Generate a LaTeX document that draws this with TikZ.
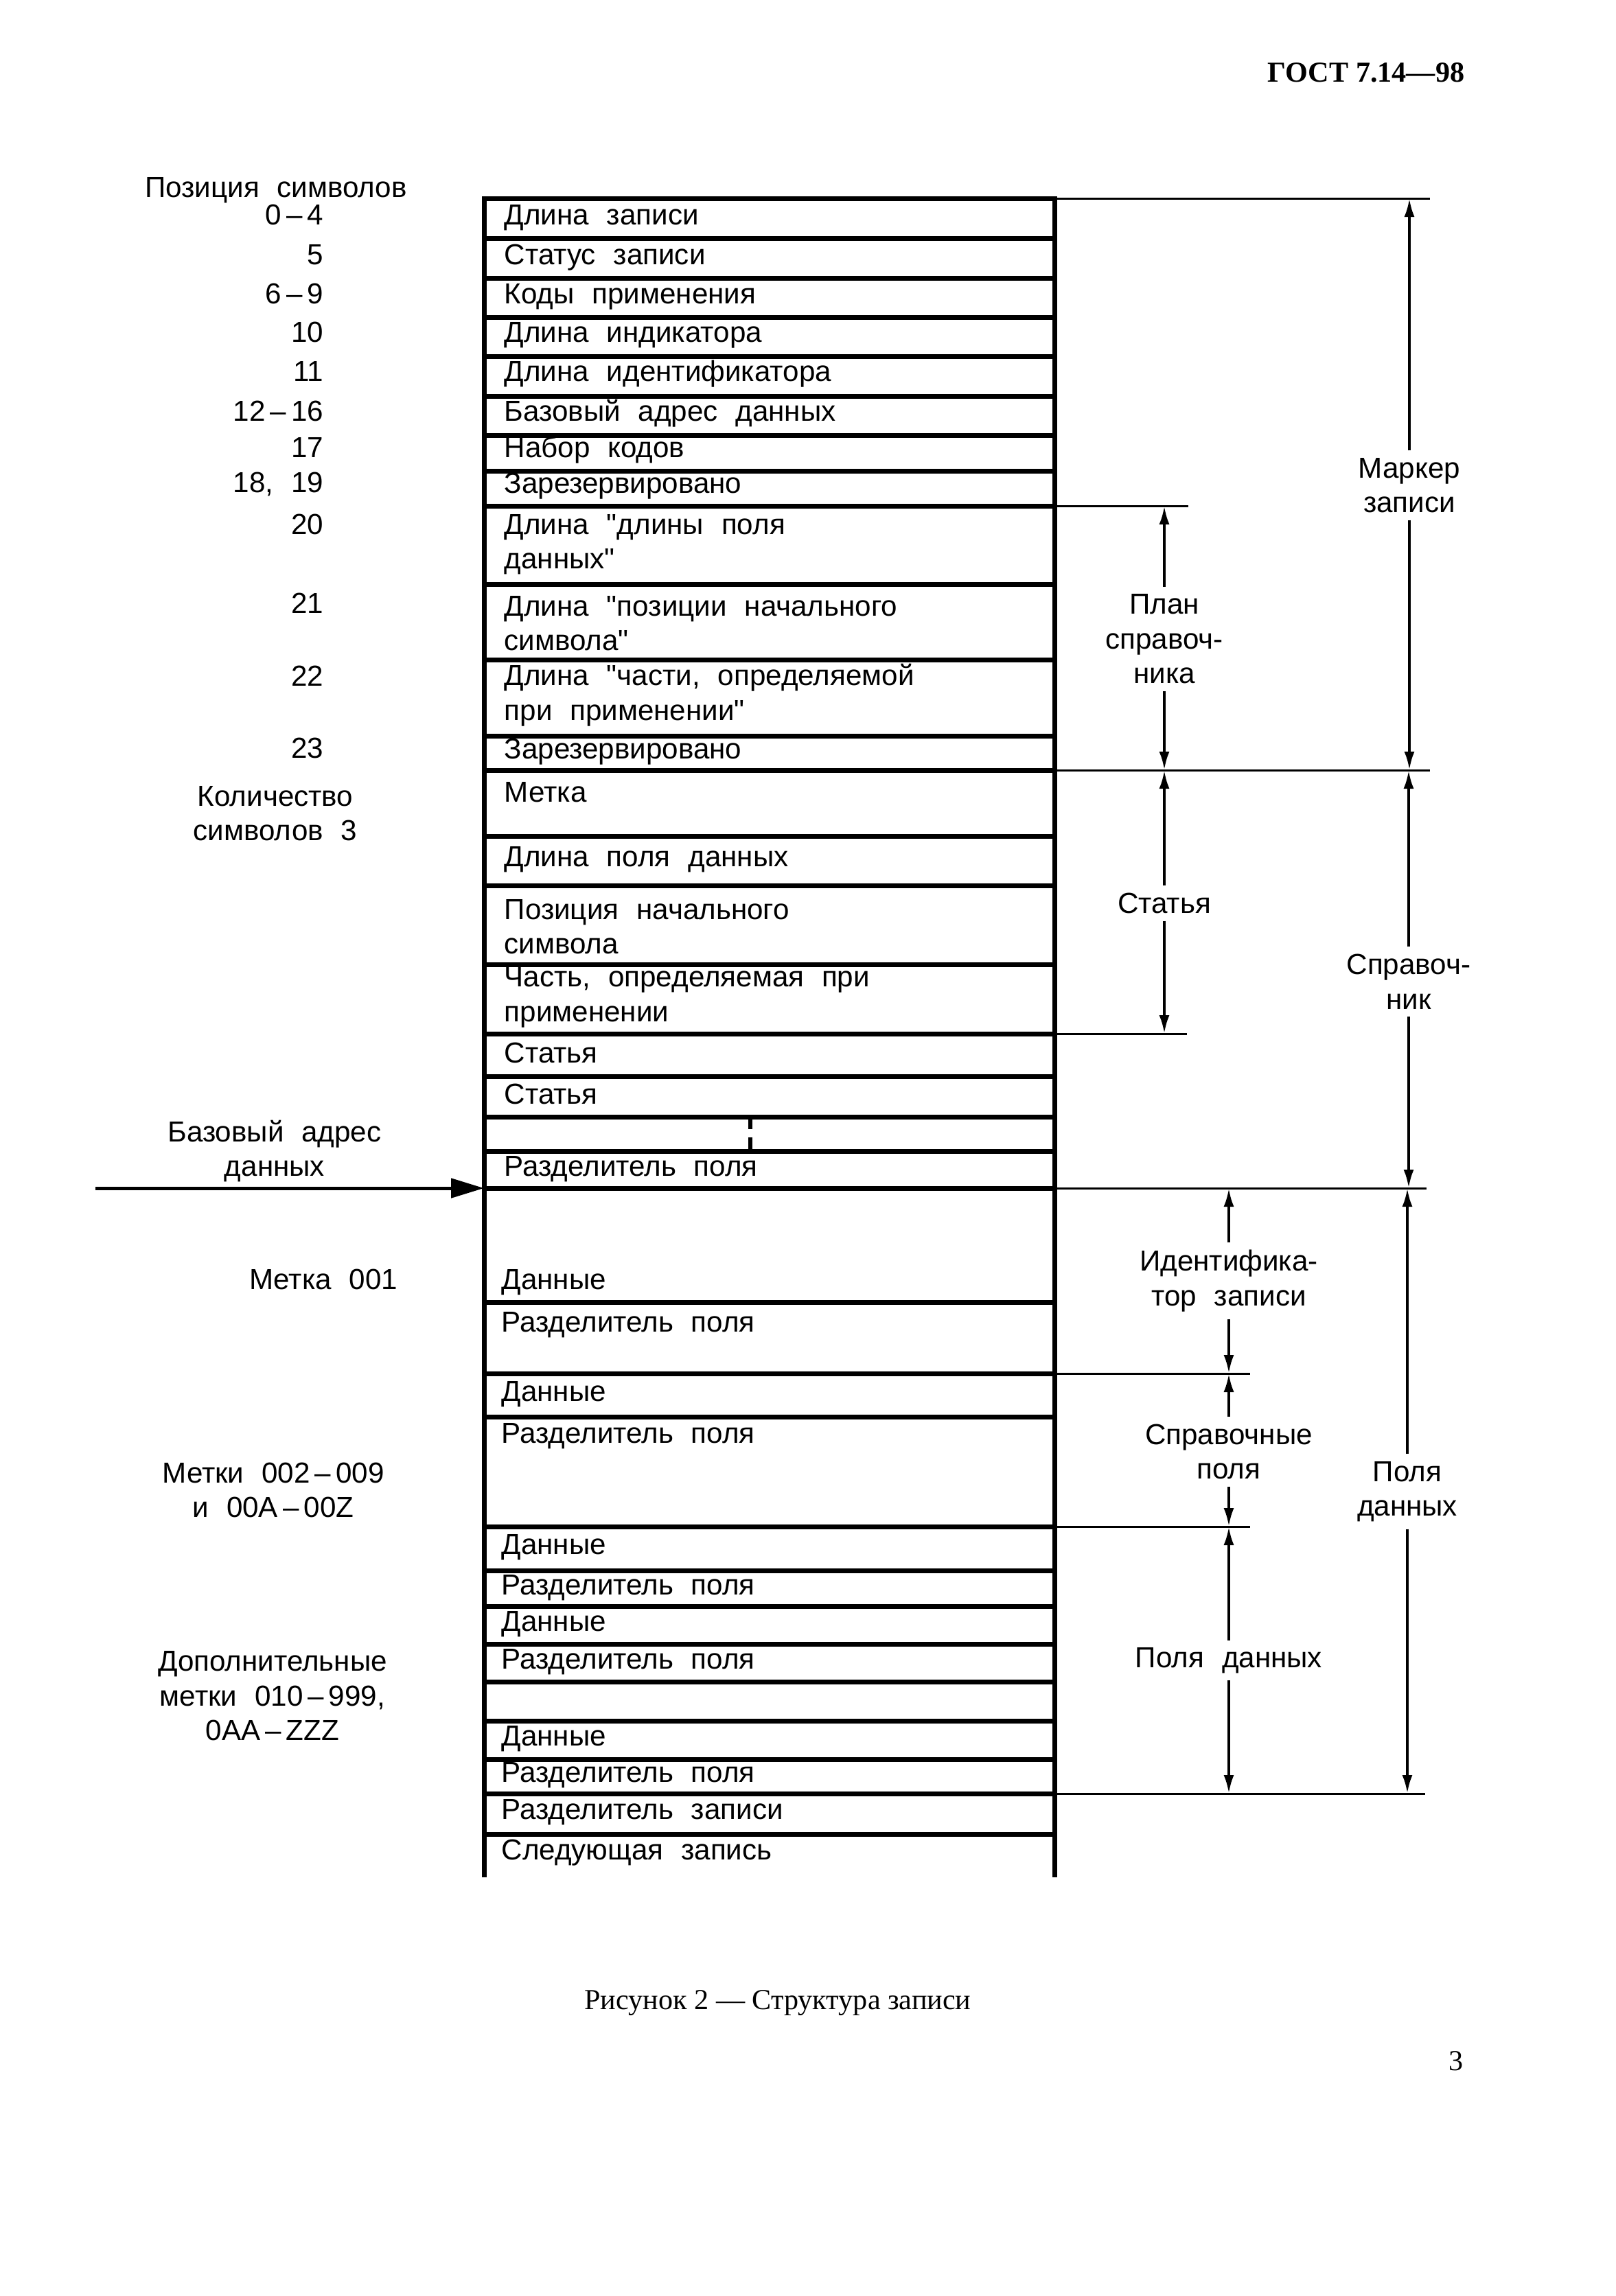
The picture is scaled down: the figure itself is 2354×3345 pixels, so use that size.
\documentclass[tikz,border=0pt]{standalone}
\usepackage{fontspec}
\setmainfont{Liberation Sans}[WordSpace=2.2, Ligatures=TeXOff]
\newfontfamily\serifrm{Liberation Serif}
\usetikzlibrary{arrows.meta}

\begin{document}
\begin{tikzpicture}[
  x=0.1mm, y=-0.1mm,
  font=\fontsize{12}{14.4}\selectfont,
  tl/.style={line width=0.7mm},
  el/.style={line width=0.3mm},
  pf/.style={line width=0.4mm, -{Latex[length=2.7mm,width=1.5mm]}},
  la/.style={line width=0.5mm, -{Triangle[length=4.8mm,width=2.8mm]}},
  cell/.style={anchor=mid west, inner sep=0pt},
  cell2/.style={anchor=west, align=left, inner sep=0pt},
  num/.style={anchor=mid east, inner sep=0pt},
  lbl/.style={align=center, inner sep=0pt},
  dimlbl/.style={align=center, inner sep=1mm},
  pg/.style={font=\serifrm\fontsize{12}{14}\selectfont}
]
\useasboundingbox (0,0) rectangle (2354,3345);

% header, caption, page number
\node[pg, font=\serifrm\bfseries\fontsize{12}{14}\selectfont] (gost) at (1990,106) {ГОСТ 7.14—98};
\node[pg] (cap) at (1133,2918) {Рисунок 2 — Структура записи};
\node[pg] (page) at (2121,3003) {3};

% table frame and rows
\draw[tl] (705,2735) -- (705,289) -- (1536,289) -- (1536,2735);
\draw[tl] (705,347) -- (1536,347) (705,405) -- (1536,405) (705,462) -- (1536,462) (705,519) -- (1536,519)
          (705,577) -- (1536,577) (705,634) -- (1536,634) (705,686) -- (1536,686) (705,737) -- (1536,737)
          (705,851) -- (1536,851) (705,961) -- (1536,961) (705,1072) -- (1536,1072) (705,1122) -- (1536,1122)
          (705,1218) -- (1536,1218) (705,1290) -- (1536,1290) (705,1405) -- (1536,1405) (705,1506) -- (1536,1506)
          (705,1568) -- (1536,1568) (705,1627) -- (1536,1627) (705,1677) -- (1536,1677) (705,1731) -- (1536,1731)
          (705,1897) -- (1536,1897) (705,2001) -- (1536,2001) (705,2064) -- (1536,2064) (705,2224) -- (1536,2224)
          (705,2288) -- (1536,2288) (705,2340) -- (1536,2340) (705,2395) -- (1536,2395) (705,2450) -- (1536,2450)
          (705,2507) -- (1536,2507) (705,2563) -- (1536,2563) (705,2613) -- (1536,2613) (705,2672) -- (1536,2672);
\draw[line width=0.6mm] (1093,1630) -- (1093,1645) (1093,1657) -- (1093,1677);

% row texts
\node[cell] (c1) at (734,318) {Длина записи};
\node[cell] (c2) at (734,376) {Статус записи};
\node[cell] (c3) at (734,433) {Коды применения};
\node[cell] (c4) at (734,489) {Длина индикатора};
\node[cell] (c5) at (734,546) {Длина идентификатора};
\node[cell] (c6) at (734,604) {Базовый адрес данных};
\node[cell] (c7) at (734,657) {Набор кодов};
\node[cell] (c8) at (734,709) {Зарезервировано};
\node[cell2] (c9) at (734,793) {Длина "длины поля\\данных"};
\node[cell2] (c10) at (734,908) {Длина "позиции начального\\символа"};
\node[cell2] (c11) at (734,1013) {Длина "части, определяемой\\при применении"};
\node[cell] (c12) at (734,1096) {Зарезервировано};
\node[cell] (c13) at (734,1159) {Метка};
\node[cell] (c14) at (734,1253) {Длина поля данных};
\node[cell2] (c15) at (734,1350) {Позиция начального\\символа};
\node[cell2] (c16) at (734,1453) {Часть, определяемая при\\применении};
\node[cell] (c17) at (734,1539) {Статья};
\node[cell] (c18) at (734,1599) {Статья};
\node[cell] (c19) at (734,1704) {Разделитель поля};
\node[cell] (c20) at (730,1869) {Данные};
\node[cell] (c21) at (730,1931) {Разделитель поля};
\node[cell] (c22) at (730,2032) {Данные};
\node[cell] (c23) at (730,2093) {Разделитель поля};
\node[cell] (c24) at (730,2255) {Данные};
\node[cell] (c25) at (730,2314) {Разделитель поля};
\node[cell] (c26) at (730,2367) {Данные};
\node[cell] (c27) at (730,2422) {Разделитель поля};
\node[cell] (c28) at (730,2534) {Данные};
\node[cell] (c29) at (730,2587) {Разделитель поля};
\node[cell] (c30) at (730,2641) {Разделитель записи};
\node[cell] (c31) at (730,2700) {Следующая запись};

% character positions and tags
\node[lbl, anchor=mid] (pos) at (402,278) {Позиция символов};
\node[num] (p1) at (472,318) {0\,–\,4};
\node[num] (p2) at (472,376) {5};
\node[num] (p3) at (472,433) {6\,–\,9};
\node[num] (p4) at (472,489) {10};
\node[num] (p5) at (472,546) {11};
\node[num] (p6) at (472,604) {12\,–\,16};
\node[num] (p7) at (472,657) {17};
\node[num] (p8) at (472,708) {18, 19};
\node[num] (p9) at (472,769) {20};
\node[num] (p10) at (472,884) {21};
\node[num] (p11) at (472,990) {22};
\node[num] (p12) at (472,1095) {23};
\node[lbl] (cnt) at (401,1185) {Количество\\символов 3};
\node[lbl] (base) at (400,1677) {Базовый адрес\\данных};
\node[lbl, anchor=mid] (m1) at (471,1869) {Метка 001};
\node[lbl] (m2) at (398,2171) {Метки 002\,–\,009\\и 00A\,–\,00Z};
\node[lbl] (m3) at (397,2471) {Дополнительные\\метки 010\,–\,999,\\0AA\,–\,ZZZ};

% base address arrow
\coordinate (ba) at (139,1731);
\coordinate (x0) at (705,1731);
\draw[la] (ba) -- (x0);

% extension lines
\coordinate (x1) at (1536,289);
\coordinate (x2) at (1536,737);
\coordinate (x3) at (1536,1122);
\coordinate (x4) at (1536,1506);
\coordinate (x5) at (1536,1731);
\coordinate (x6) at (1536,2001);
\coordinate (x7) at (1536,2224);
\coordinate (x8) at (1536,2613);
\draw[el] (x1) -- ++(547,0) (x2) -- ++(195,0) (x3) -- ++(547,0) (x4) -- ++(193,0)
          (x5) -- ++(542,0) (x6) -- ++(285,0) (x7) -- ++(285,0) (x8) -- ++(540,0);

% dimension labels
\node[dimlbl] (mk) at (2053,707) {Маркер\\записи};
\node[dimlbl] (plan) at (1696,931) {План\\справоч-\\ника};
\node[dimlbl] (art) at (1696,1316) {Статья};
\node[dimlbl] (dir) at (2052,1430) {Справоч-\\ник};
\node[dimlbl] (idr) at (1790,1866) {Идентифика-\\тор записи};
\node[dimlbl] (ref) at (1790,2115) {Справочные\\поля};
\node[dimlbl] (df) at (1790,2419) {Поля данных};
\node[dimlbl] (dfo) at (2050,2173) {Поля\\данных};

\draw[pf] (mk) -- (mk |- x1);
\draw[pf] (mk) -- (mk |- x3);
\draw[pf] (plan) -- (plan |- x2);
\draw[pf] (plan) -- (plan |- x3);
\draw[pf] (art) -- (art |- x3);
\draw[pf] (art) -- (art |- x4);
\draw[pf] (dir) -- (dir |- x3);
\draw[pf] (dir) -- (dir |- x5);
\draw[pf] (idr) -- (idr |- x5);
\draw[pf] (idr) -- (idr |- x6);
\draw[pf] (ref) -- (ref |- x6);
\draw[pf] (ref) -- (ref |- x7);
\draw[pf] (df) -- (df |- x7);
\draw[pf] (df) -- (df |- x8);
\draw[pf] (dfo) -- (dfo |- x5);
\draw[pf] (dfo) -- (dfo |- x8);
\end{tikzpicture}
\end{document}
